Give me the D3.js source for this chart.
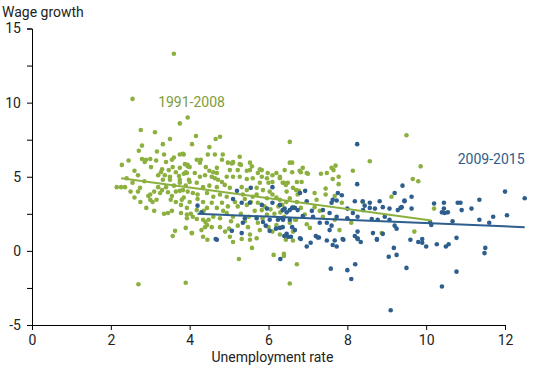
<!DOCTYPE html>
<html lang="en">
<head>
<meta charset="utf-8">
<title>Wage growth vs unemployment</title>
<style>
  body { margin: 0; background: #fff; }
  svg { display: block; font-family: Roboto, "Noto Sans", sans-serif; }
  .axis path, .axis line { stroke: #000; }
  .axis text { font-size: 14px; fill: #222; font-family: Roboto, sans-serif; }
</style>
</head>
<body>
<svg id="chart" width="550" height="365"></svg>
<script src="https://cdn.jsdelivr.net/npm/d3@7/dist/d3.min.js"></script>
<script>
// unemployment rate, wage growth : 1991-2008
var early = [
  [2.15,4.3],[2.26,4.3],[2.36,4.3],[2.28,5.8],[2.55,10.25],[2.45,6.1],[2.69,5.1],[2.74,4.25],[2.69,4.0],[2.71,6.75],
  [2.79,7.1],[2.76,8.15],[2.79,6.2],[2.89,6.15],[2.86,6.0],[3.0,6.2],[3.0,3.8],[3.02,5.65],[2.6,5.4],[2.85,4.7],
  [2.95,3.7],[3.0,3.45],[3.06,3.3],[3.16,3.45],[2.7,-2.25],
  [2.6,3.6],[2.75,3.3],[2.9,2.9],[3.1,2.7],[3.2,4.3],[2.5,4.0],[3.1,4.0],[2.4,4.9],[2.55,4.6],
  [3.12,8.0],[3.32,7.2],[3.5,7.55],[3.75,8.6],[3.95,9.0],[3.6,13.3],[3.17,6.7],[3.35,6.5],[3.75,6.5],[3.85,6.5],
  [3.55,6.15],[3.6,6.3],[3.3,5.5],[3.27,5.3],[3.47,5.45],[3.57,5.65],[3.65,5.3],[3.9,5.3],[3.95,5.7],[3.75,5.6],
  [3.2,5.1],[3.37,5.1],[3.5,5.0],[3.73,5.05],[3.85,5.2],[3.3,4.1],[3.32,4.8],[3.5,4.8],[3.6,4.4],[3.75,4.05],
  [3.75,4.8],[3.98,4.8],[3.9,4.4],[3.55,3.7],[3.35,2.5],[3.45,2.55],[3.55,2.7],[3.63,1.35],[3.57,1.0],[3.9,-2.15],
  [3.52,3.45],[3.65,3.3],[3.78,3.1],[3.78,2.55],[3.93,2.2],[3.4,4.3],[3.25,3.9],[3.45,3.95],[3.65,4.0],[3.85,3.6],
  [3.15,6.1],[3.4,6.0],
  [4.16,7.75],[4.66,7.55],[4.77,7.7],[4.06,7.2],[4.5,7.0],[3.83,6.55],[4.46,6.5],[4.64,6.5],[4.84,6.5],[5.27,6.35],
  [4.82,6.15],[4.18,6.15],[4.28,6.15],[4.26,5.95],[4.97,5.95],[5.1,5.95],[5.3,5.8],[5.53,5.95],[5.58,5.7],[3.95,5.8],
  [3.88,5.85],[4.0,5.65],[4.41,5.65],[4.69,5.6],[5.02,5.45],[5.22,5.45],[5.53,5.45],[5.78,5.5],[5.98,5.25],[6.1,5.1],
  [5.83,5.0],[6.29,5.0],[6.54,5.95],[6.54,7.35],[6.79,5.4],[6.36,4.6],[6.44,4.45],[6.0,4.6],
  [4.5,5.4],[4.6,5.3],[4.69,5.25],[5.07,5.9],[5.27,5.85],[5.45,5.4],[5.73,5.25],[3.93,5.25],[4.13,5.25],[4.26,5.0],
  [4.39,5.1],[4.56,5.0],[4.64,4.9],[4.72,4.8],[4.82,4.65],[4.94,5.0],[5.1,5.0],[5.27,5.0],[5.45,4.85],[5.6,4.9],
  [3.75,4.6],[4.0,4.65],[4.18,4.6],[4.34,4.3],[4.5,4.4],[4.69,4.3],[4.89,4.45],[5.02,4.25],[5.32,4.3],[5.45,4.1],
  [5.7,4.25],[3.83,4.1],[3.95,4.0],[4.08,3.9],[4.2,3.8],[4.44,3.9],[4.6,3.65],[4.77,3.8],[4.94,3.65],[5.35,3.8],
  [5.6,3.65],[3.8,3.45],[4.0,3.3],[4.34,3.3],[4.56,3.25],[4.82,3.25],[4.97,3.0],[5.22,3.0],[5.45,3.1],[5.73,3.25],
  [3.93,2.9],[4.44,2.9],[4.69,2.9],[4.03,2.5],[4.05,1.2],[4.18,2.15],[4.4,1.95],[4.39,1.6],[4.48,2.1],[4.18,2.75],
  [4.36,2.7],[3.93,2.45],[4.08,2.3],[4.34,2.1],[4.44,1.75],[4.6,2.3],[4.77,2.2],[4.94,2.55],[5.1,2.3],[4.77,1.6],
  [4.56,1.6],[5.22,1.7],[5.48,1.6],[5.73,1.9],[5.78,1.4],[5.53,1.1],[5.02,0.95],[4.06,1.2],[4.34,0.95],[6.2,1.75],
  [6.54,1.9],[6.29,1.1],[6.7,2.1],
  [5.96,3.55],[6.1,3.8],[6.29,3.45],[6.54,3.55],[6.72,3.3],[6.46,4.0],[5.86,4.1],[6.03,4.0],[5.78,4.6],[5.96,4.9],
  [6.1,4.65],[6.29,4.9],[6.72,4.65],[6.74,3.8],[5.7,3.8],[5.83,2.75],[5.96,2.45],[6.62,2.95],[6.2,5.25],[6.41,5.45],
  [5.83,5.45],[5.1,6.0],
  [6.6,5.95],[6.87,5.6],[6.97,5.25],[7.0,5.2],[6.6,5.3],[6.82,5.3],[7.33,5.2],[7.48,5.25],[7.6,5.6],[7.65,5.45],
  [7.7,5.75],[7.63,4.85],[7.78,5.0],[8.14,5.4],[8.57,6.05],[9.5,7.8],[6.39,4.6],[6.49,4.6],[6.84,4.65],[7.17,3.9],
  [7.45,4.2],[7.78,4.5],[6.62,4.25],[6.7,4.1],[6.77,4.05],[7.22,3.45],[7.45,3.8],[7.68,3.7],[9.12,3.65],[8.39,3.3],
  [7.86,3.25],[7.17,2.95],[7.3,2.7],[6.25,3.0],[6.35,3.1],[6.45,3.3],[6.82,2.9],[6.92,2.45],[7.38,2.3],[7.68,2.1],
  [8.1,1.9],[6.67,2.1],[6.97,1.8],[7.05,1.55],[7.8,1.4],[8.87,1.2],[6.62,1.3],
  [9.86,5.7],[9.66,4.85],[9.8,4.7],[10.2,2.85],[9.7,1.3],
  [5.32,0.8],[5.53,0.75],[5.58,0.2],[5.25,-0.55],[6.13,-0.27],[6.39,-0.2],[6.39,-0.35],[6.44,0.75],[6.62,0.7],[6.72,-0.9],
  [6.54,-2.2],
  [5.05,2.0],[5.3,2.5],[5.5,2.3],[5.65,2.7],[5.9,3.0],[6.05,2.8],[6.15,2.5],[6.3,2.6],[5.15,3.3],[5.4,3.5],
  [5.55,3.3],[6.2,3.6],[6.4,2.3],[5.85,2.2],[6.0,1.6],[5.4,2.0],[4.85,2.7],[5.0,1.5],[4.9,1.3],[6.1,1.3],
  [5.7,0.85],[5.1,0.6],[4.45,0.75],[4.3,1.4],[3.9,1.55],[4.2,3.5]
];

// unemployment rate, wage growth : 2009-2015
var recent = [
  [8.25,7.2],[8.25,4.5],[9.4,4.4],[9.45,3.4],[9.63,3.65],[9.35,2.9],[9.63,2.85],[10.2,3.2],[10.45,3.25],[10.8,3.25],
  [10.87,3.25],[11.35,3.45],[12.0,4.0],[12.5,3.55],[10.45,2.85],[10.47,2.55],[10.4,2.6],[10.55,2.6],[10.9,2.75],[11.15,2.85],
  [10.67,2.0],[11.35,2.1],[11.6,1.9],[11.7,2.3],[12.05,2.4],[10.1,1.95],[10.13,1.75],[10.77,0.88],[9.6,0.75],[9.9,0.8],
  [9.8,0.6],[9.9,0.55],[10.0,0.3],[10.27,0.45],[10.5,0.3],[10.57,0.45],[11.5,0.2],[11.48,-0.15],[10.77,-1.4],[10.4,-2.4],
  [7.07,0.55],[7.28,0.9],[7.2,1.0],[7.48,0.7],[7.68,0.7],[7.63,0.4],[7.73,0.3],[7.9,0.75],[8.19,1.0],[8.26,0.8],
  [8.34,0.6],[8.75,0.75],[9.18,0.2],[9.05,-0.4],[9.25,-0.27],[7.58,-1.2],[8.0,-1.3],[8.2,-0.9],[8.1,-1.9],[9.5,-1.15],
  [9.1,-4.0],
  [5.2,4.05],[5.55,4.25],[6.1,4.3],[5.1,3.5],[5.32,3.25],[5.53,3.25],[5.83,3.1],[6.1,3.25],[5.96,2.85],[6.29,3.1],
  [6.6,2.9],[6.36,2.75],[6.46,2.6],[6.74,2.75],[4.2,3.05],[4.3,2.6],[5.4,2.2],[5.7,2.2],[5.86,1.95],[6.03,2.1],
  [6.24,2.1],[6.37,2.1],[6.54,2.1],[5.35,1.9],[5.93,1.7],[6.03,1.35],[6.29,1.55],[6.19,1.5],[6.46,1.15],[6.67,1.4],
  [5.07,1.35],[5.32,1.2],[4.66,0.8],
  [9.2,3.9],[6.8,3.9],[6.93,4.05],[7.76,3.9],[7.86,3.75],[7.63,3.45],[7.73,3.4],[7.6,3.25],[8.19,3.35],[8.39,3.35],
  [8.57,3.25],[8.82,3.35],[8.44,3.05],[8.57,2.9],[8.7,2.85],[8.4,2.75],[8.9,2.95],[9.07,2.85],[9.28,2.75],[9.38,2.95],
  [9.45,3.35],[7.38,2.75],[7.1,2.7],[6.97,3.35],[6.41,2.85],[6.54,2.75],[6.67,2.9],[6.87,2.35],[7.13,2.3],[7.55,2.55],
  [8.0,2.85],[8.14,2.55],[7.73,2.3],[8.0,2.2],[8.26,2.3],[8.62,2.15],[8.77,2.1],[8.95,2.3],[9.07,2.1],[7.48,1.9],
  [7.3,1.9],[7.6,1.7],[7.55,1.4],[8.26,1.3],[8.65,1.2],[9.2,1.7],[9.25,1.5],[8.9,1.15],[6.5,0.95],[6.8,0.85],
  [7.25,0.9],[7.88,0.8],[8.26,0.85],[8.75,0.8],[6.36,1.6],[6.6,1.6],[6.34,2.2],
  [4.69,0.75],[6.4,1.0],[6.57,0.95],[6.82,0.8],[6.97,0.3],[6.3,-0.55]
];

// fitted trend lines (start, end)
var earlyFit = [[2.26,4.9],[10.13,2.05]];
var recentFit = [[4.2,2.5],[12.5,1.6]];

var xTicks = [0,2,4,6,8,10,12];
var yTicks = [-5,-2.5,0,2.5,5,7.5,10,12.5,15];
var yLabels = [-5,0,5,10,15];

var green = '#8cb03f', blue = '#2d5e8e';

var svg = d3.select('#chart'),
    margin = {top: 28.5, right: 45, bottom: 40, left: 32},
    w = 550 - margin.left - margin.right,
    h = 365 - margin.top - margin.bottom;

var x = d3.scaleLinear().domain([0, 12]).range([0, w]),
    y = d3.scaleLinear().domain([-5, 15]).range([h, 0]);

var g = svg.append('g')
    .attr('transform', 'translate(' + margin.left + ',' + margin.top + ')');

// axes
g.append('g')
    .attr('class', 'axis')
    .call(d3.axisLeft(y).tickValues(yTicks).tickSizeOuter(0).tickSize(5).tickPadding(6)
        .tickFormat(function(d) { return yLabels.indexOf(d) >= 0 ? d : ''; }));

g.append('g')
    .attr('class', 'axis')
    .attr('transform', 'translate(0,' + h + ')')
    .call(d3.axisBottom(x).tickValues(xTicks).tickSizeOuter(0).tickSize(5).tickPadding(5.5));

// points
g.append('g').selectAll('circle')
    .data(early).enter().append('circle')
    .attr('cx', function(d) { return x(d[0]); })
    .attr('cy', function(d) { return y(d[1]); })
    .attr('r', 2.3)
    .attr('fill', green);

g.append('g').selectAll('circle')
    .data(recent).enter().append('circle')
    .attr('cx', function(d) { return x(d[0]); })
    .attr('cy', function(d) { return y(d[1]); })
    .attr('r', 2.3)
    .attr('fill', blue);

// trend lines
var line = d3.line()
    .x(function(d) { return x(d[0]); })
    .y(function(d) { return y(d[1]); });

g.append('path').datum(earlyFit)
    .attr('d', line).attr('fill', 'none')
    .attr('stroke', green).attr('stroke-width', 2);

g.append('path').datum(recentFit)
    .attr('d', line).attr('fill', 'none')
    .attr('stroke', blue).attr('stroke-width', 2);

// labels
svg.append('text')
    .attr('x', 2).attr('y', 17)
    .style('font-size', '14px').attr('fill', '#222')
    .text('Wage growth');

svg.append('text')
    .attr('x', margin.left + x(6.1)).attr('y', 362)
    .attr('text-anchor', 'middle')
    .style('font-size', '14px').attr('fill', '#222')
    .text('Unemployment rate');

g.append('text')
    .attr('x', x(3.2)).attr('y', y(10) + 4)
    .style('font-size', '14px').attr('fill', '#7d9c3a')
    .text('1991-2008');

g.append('text')
    .attr('x', x(10.8)).attr('y', y(6.2) + 5)
    .style('font-size', '14px').attr('fill', '#2e5c8a')
    .text('2009-2015');
</script>
</body>
</html>
